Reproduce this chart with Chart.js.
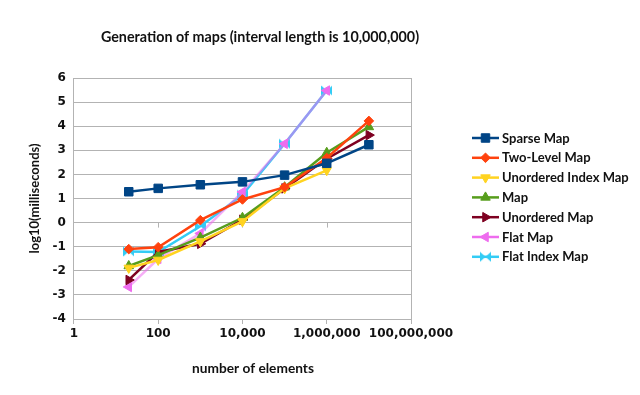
<!DOCTYPE html>
<html>
<head>
<meta charset="utf-8">
<title>Generation of maps</title>
<script src="https://cdn.jsdelivr.net/npm/chart.js@4.4.1/dist/chart.umd.min.js"></script>
<style>
    html, body { margin: 0; padding: 0; background: #fff; }
    #wrap { width: 640px; height: 395px; }
</style>
</head>
<body>
<div id="wrap"><canvas id="graph"></canvas></div>
<script>
// number of elements (x) and log10(ms) for each map type
const elementCounts = [20, 100, 1000, 10000, 100000, 1000000, 10000000];
const xTickValues = [1, 100, 10000, 1000000, 100000000];

const sparseMap = [1.28, 1.42, 1.57, 1.69, 1.97, 2.46, 3.23];
const twoLevelMap = [-1.1, -1.02, 0.1, 0.96, 1.47, 2.68, 4.22];
const unorderedIndexMap = [-1.88, -1.55, -0.78, 0.05, 1.42, 2.17];
const mapValues = [-1.8, -1.35, -0.62, 0.2, 1.47, 2.9, 3.97];
const unorderedMap = [-2.38, -1.22, -0.88, 0.12, 1.42, 2.65, 3.63];
const flatMap = [-2.67, -1.5, -0.45, 1.27, 3.27, 5.48];
const flatIndexMap = [-1.2, -1.22, -0.15, 1.15, 3.27, 5.48];

const chartTitle = "Generation of maps (interval length is 10,000,000)";
const xTitle = "number of elements";
const yTitle = "log10(milliseconds)";

// little bow-tie marker for Flat Index Map
function makeBowtie(color) {
    const c = document.createElement("canvas");
    c.width = 11;
    c.height = 11;
    const g = c.getContext("2d");
    g.fillStyle = color;
    g.beginPath();
    g.moveTo(0, 0.5); g.lineTo(5.5, 5.5); g.lineTo(0, 10.5); g.closePath();
    g.moveTo(11, 0.5); g.lineTo(5.5, 5.5); g.lineTo(11, 10.5); g.closePath();
    g.fill();
    return c;
}

function toPoints(values) {
    return values.map((v, i) => ({ x: elementCounts[i], y: v }));
}

function series(label, values, color, style, radius, rotation, lineColor) {
    return {
        label: label,
        data: toPoints(values),
        borderColor: lineColor || color,
        backgroundColor: color,
        pointBorderColor: color,
        pointBackgroundColor: color,
        borderWidth: 2.5,
        pointStyle: style,
        pointRadius: radius,
        pointBorderWidth: 1,
        pointRotation: rotation || 0,
        fill: false,
        tension: 0
    };
}

const datasets = [
    series("Sparse Map", sparseMap, "#004586", "rect", 6),
    series("Two-Level Map", twoLevelMap, "#ff420e", "rectRot", 4.8),
    series("Unordered Index Map", unorderedIndexMap, "#ffd320", "triangle", 5.5, 180),
    series("Map", mapValues, "#579d1c", "triangle", 5.5),
    series("Unordered Map", unorderedMap, "#7e0021", "triangle", 5.5, 90),
    series("Flat Map", flatMap, "#ee6cee", "triangle", 5.5, 270, "rgba(238,108,238,0.55)"),
    series("Flat Index Map", flatIndexMap, "#33ccf5", makeBowtie("#33ccf5"), 5.5)
];

const gridGray = "#b3b3b3";

// small tick marks where the x axis crosses y = 0
const zeroTicks = {
    id: "zeroTicks",
    beforeDatasetsDraw(chart) {
        const ctx = chart.ctx;
        const y = chart.scales.y.getPixelForValue(0);
        ctx.save();
        ctx.strokeStyle = gridGray;
        ctx.lineWidth = 1;
        xTickValues.slice(1, -1).forEach(v => {
            const x = Math.round(chart.scales.x.getPixelForValue(v)) + 0.5;
            ctx.beginPath();
            ctx.moveTo(x, y);
            ctx.lineTo(x, y + 5);
            ctx.stroke();
        });
        ctx.restore();
    }
};

// titles and legend drawn by hand: legend is line with the marker on it, then the name
const sideLegend = {
    id: "sideLegend",
    afterDraw(chart) {
        const ctx = chart.ctx;
        ctx.save();
        ctx.fillStyle = "#111";
        ctx.textAlign = "center";
        ctx.textBaseline = "middle";
        ctx.font = "bold 14.3px Lato";
        ctx.fillText(chartTitle, 260, 37);
        ctx.font = "bold 13.7px Lato";
        ctx.fillText(xTitle, 253, 369);

        const x0 = 472, x1 = 499, top = 138, step = 19.8;
        chart.data.datasets.forEach((ds, i) => {
            const y = top + i * step;
            ctx.strokeStyle = ds.pointBackgroundColor;
            ctx.lineWidth = 2.5;
            ctx.beginPath();
            ctx.moveTo(x0, y);
            ctx.lineTo(x1, y);
            ctx.stroke();
            ctx.fillStyle = ds.pointBackgroundColor;
            ctx.lineWidth = 1;
            Chart.helpers.drawPoint(ctx, {
                pointStyle: ds.pointStyle,
                radius: ds.pointRadius,
                rotation: ds.pointRotation,
                borderWidth: 1
            }, (x0 + x1) / 2, y);
            ctx.fillStyle = "#111";
            ctx.font = "bold 13px Lato";
            ctx.textAlign = "left";
            ctx.fillText(ds.label, 502, y + 0.5);
        });
        ctx.restore();
    }
};

new Chart(document.getElementById("graph").getContext("2d"), {
    type: "line",
    data: { datasets: datasets },
    options: {
        responsive: true,
        maintainAspectRatio: false,
        animation: false,
        layout: { padding: { left: 0, right: 229, top: 78, bottom: 50.6 } },
        plugins: {
            legend: { display: false },
            tooltip: { enabled: false },
            title: { display: false }
        },
        scales: {
            x: {
                type: "logarithmic",
                min: 1,
                max: 100000000,
                afterBuildTicks: scale => {
                    scale.ticks = xTickValues.map(v => ({ value: v }));
                },
                ticks: {
                    autoSkip: false,
                    maxRotation: 0,
                    padding: 3,
                    color: "#111",
                    font: { family: "DejaVu Sans", size: 12, weight: "bold" },
                    callback: value => Number(value).toLocaleString("en-US")
                },
                grid: {
                    drawOnChartArea: true,
                    drawTicks: true,
                    tickLength: 5,
                    tickColor: gridGray,
                    color: ctx => (ctx.tick && ctx.tick.value === 100000000 ? gridGray : "rgba(0,0,0,0)")
                },
                border: { display: true, color: gridGray }
            },
            y: {
                min: -4,
                max: 6,
                ticks: {
                    stepSize: 1,
                    padding: 8,
                    color: "#111",
                    font: { family: "DejaVu Sans", size: 12, weight: "bold" }
                },
                grid: { color: gridGray, drawTicks: false },
                border: { display: true, color: gridGray },
                title: {
                    display: true,
                    text: yTitle,
                    color: "#111",
                    font: { family: "Lato", size: 13, weight: "bold" },
                    padding: { top: 27, bottom: 2 }
                }
            }
        }
    },
    plugins: [zeroTicks, sideLegend]
});
</script>
</body>
</html>
